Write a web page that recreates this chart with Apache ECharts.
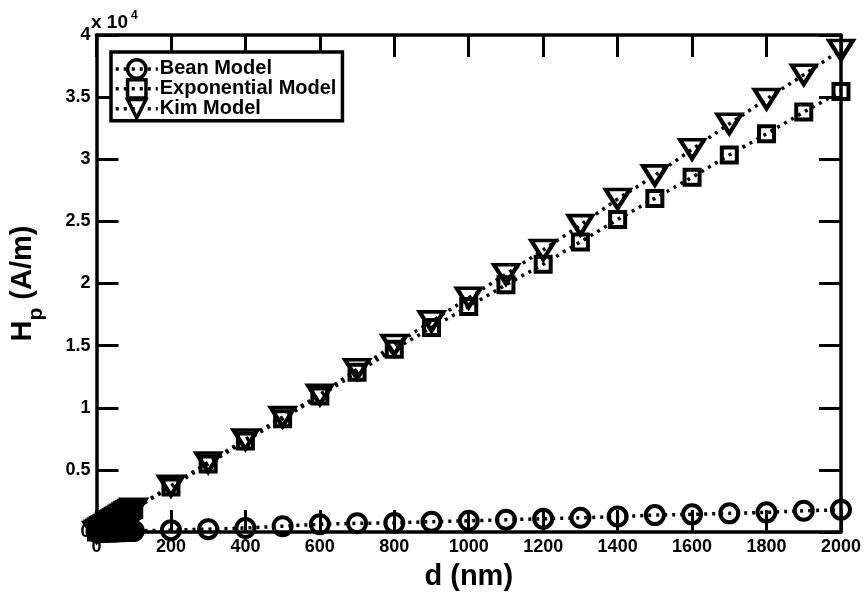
<!DOCTYPE html>
<html>
<head>
<meta charset="utf-8">
<script src="https://cdn.jsdelivr.net/npm/echarts@6/dist/echarts.min.js"></script>
<style>html,body{margin:0;padding:0;background:#fff;}#c{width:864px;height:596px;}</style>
</head>
<body>
<div id="c"></div>
<script>
// d values (nm)
const dValues = [0,5,10,15,20,25,30,35,40,45,50,55,60,65,70,75,80,85,90,95,100,
  200,300,400,500,600,700,800,900,1000,1100,1200,1300,1400,1500,1600,1700,1800,1900,2000];
// Hp (A/m)
const beanModel = [0,4.5,9,13.5,18,22.5,27,31.5,36,40.5,45,49.5,54,58.5,63,67.5,72,76.5,81,85.5,90,
  150,230,320,470,620,700,730,830,900,990,1060,1140,1240,1360,1420,1500,1580,1710,1790];
const exponentialModel = [0,91,182,273,364,455,546,637,728,819,910,1001,1092,1183,1274,1365,1456,1547,1638,1729,1820,
  3620,5480,7320,9120,10950,12850,14700,16450,18150,19900,21550,23350,25150,26850,28550,30350,32050,33800,35450];
const kimModel = [0,93,186,279,372,465,558,651,744,837,930,1023,1116,1209,1302,1395,1488,1581,1674,1767,1860,
  3710,5600,7450,9250,11050,13100,15050,16950,18850,20750,22700,24700,26800,28700,30800,32850,34850,36800,38800];
const xTicks = {min: 0, max: 2000, interval: 200};
const yTicks = {min: 0, max: 40000, interval: 5000};

const FONT = '"Liberation Sans", Arial, sans-serif';
const pairs = arr => dValues.map((d, i) => [d, arr[i]]);

const axisCommon = {
  axisLine: {show: true, onZero: false, lineStyle: {color: '#000', width: 3.5}},
  axisTick: {show: true, inside: true, length: 22, lineStyle: {color: '#000', width: 3}},
  splitLine: {show: false}
};
const lblStyle = {color: '#000', fontFamily: FONT, fontWeight: 'bold', fontSize: 18};

const markerStyle = {color: 'rgba(0,0,0,0)', borderColor: '#000', borderWidth: 4};
const lineStyle = {color: '#000', width: 3.5, type: [3, 5], cap: 'butt'};

const chart = echarts.init(document.getElementById('c'), null, {renderer: 'canvas'});
chart.setOption({
  animation: false,
  backgroundColor: '#fff',
  grid: {left: 91, right: 22, top: 35, bottom: 63, containLabel: false},
  xAxis: [
    Object.assign({type: 'value', position: 'bottom', min: xTicks.min, max: xTicks.max, interval: xTicks.interval,
      axisLabel: Object.assign({margin: 6, formatter: v => String(v)}, lblStyle),
      name: 'd (nm)', nameLocation: 'middle', nameGap: 30,
      nameTextStyle: {color: '#000', fontFamily: FONT, fontWeight: 'bold', fontSize: 29}}, axisCommon),
    Object.assign({type: 'value', position: 'top', min: xTicks.min, max: xTicks.max, interval: xTicks.interval,
      axisLabel: {show: false}}, axisCommon)
  ],
  yAxis: [
    Object.assign({type: 'value', position: 'left', min: yTicks.min, max: yTicks.max, interval: yTicks.interval,
      axisLabel: Object.assign({margin: 6, formatter: v => String(v / 10000)}, lblStyle),
      name: '{h|H}{p|p}{h| (A/m)}', nameLocation: 'middle', nameGap: 50, nameRotate: 90,
      nameTextStyle: {color: '#000', fontFamily: FONT, fontWeight: 'bold',
        rich: {
          h: {fontSize: 29, fontWeight: 'bold', fontFamily: FONT, color: '#000', lineHeight: 48, verticalAlign: 'middle'},
          p: {fontSize: 21, fontWeight: 'bold', fontFamily: FONT, color: '#000', lineHeight: 48, verticalAlign: 'bottom'}
        }}}, axisCommon),
    Object.assign({type: 'value', position: 'right', min: yTicks.min, max: yTicks.max, interval: yTicks.interval,
      axisLabel: {show: false}}, axisCommon)
  ],
  legend: {
    show: true, orient: 'vertical', left: 111, top: 52,
    backgroundColor: '#fff', borderColor: '#000', borderWidth: 3.5, borderRadius: 0,
    padding: [6, 6, 1, 3], itemGap: -2, itemWidth: 42, itemHeight: 23,
    itemStyle: {borderWidth: 3.5},
    lineStyle: {width: 3.5},
    textStyle: {color: '#000', fontFamily: FONT, fontWeight: 'bold', fontSize: 20, padding: [0, 0, 0, -3]},
    data: ['Bean Model', 'Exponential Model', 'Kim Model']
  },
  graphic: [{
    type: 'text', left: 91, top: 6, z: 100,
    style: {
      text: '{a|x 10}{b|4}',
      rich: {
        a: {fontFamily: FONT, fontWeight: 'bold', fontSize: 19, fill: '#000', verticalAlign: 'bottom', lineHeight: 26},
        b: {fontFamily: FONT, fontWeight: 'bold', fontSize: 12, fill: '#000', verticalAlign: 'top', lineHeight: 26, padding: [4, 0, 0, 3]}
      }
    }
  }],
  series: [
    {name: 'Bean Model', type: 'line', data: pairs(beanModel), symbol: 'circle', symbolSize: 18,
      itemStyle: markerStyle, lineStyle: lineStyle, z: 3},
    {name: 'Exponential Model', type: 'line', data: pairs(exponentialModel), symbol: 'rect', symbolSize: 15,
      itemStyle: markerStyle, lineStyle: lineStyle, z: 4},
    {name: 'Kim Model', type: 'line', data: pairs(kimModel), symbol: 'triangle', symbolRotate: 180, symbolSize: [24, 19],
      itemStyle: markerStyle, lineStyle: lineStyle, z: 5}
  ]
});
</script>
</body>
</html>
